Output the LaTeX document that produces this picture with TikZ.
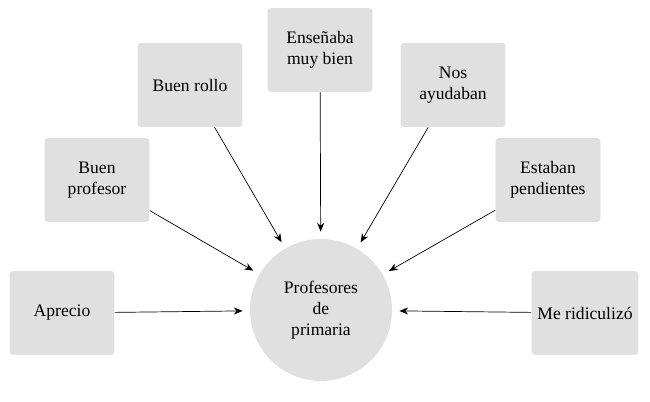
\documentclass[tikz,border=0pt]{standalone}
\usepackage{fontspec}
\setmainfont{Liberation Serif}
\usetikzlibrary{arrows.meta}
\definecolor{boxgray}{RGB}{224,224,224}
\begin{document}
\begin{tikzpicture}[x=0.02cm,y=-0.02cm,
    item/.style={rectangle,rounded corners=2pt,fill=boxgray,minimum width=2.1cm,minimum height=1.68cm,align=center,font=\normalsize},
    link/.style={-{Stealth[length=5pt,width=4pt]},thin,shorten >=4pt}]
    \useasboundingbox (0,0) rectangle (650,402);
    % Centre
    \node[circle,fill=boxgray,minimum size=2.84cm,align=center] (prof) at (321,310) {Profesores\\de\\primaria};

    % Boxes
    \node[item] (aprecio) at (62,313) {Aprecio};
    \node[item] (profesor) at (97,180) {Buen\\profesor};
    \node[item] (rollo) at (190,85) {Buen rollo};
    \node[item] (ensenaba) at (320,50) {Enseñaba\\muy bien};
    \node[item] (ayudaban) at (453,85) {Nos\\ayudaban};
    \node[item] (pendientes) at (548,180) {Estaban\\pendientes};
    \node[item] (ridiculizo) at (585,313) {Me ridiculizó};

    % Connections
    \foreach \n in {aprecio,profesor,rollo,ensenaba,ayudaban,pendientes,ridiculizo} {
        \draw[link] (\n) -- (prof);
    }
\end{tikzpicture}
\end{document}
